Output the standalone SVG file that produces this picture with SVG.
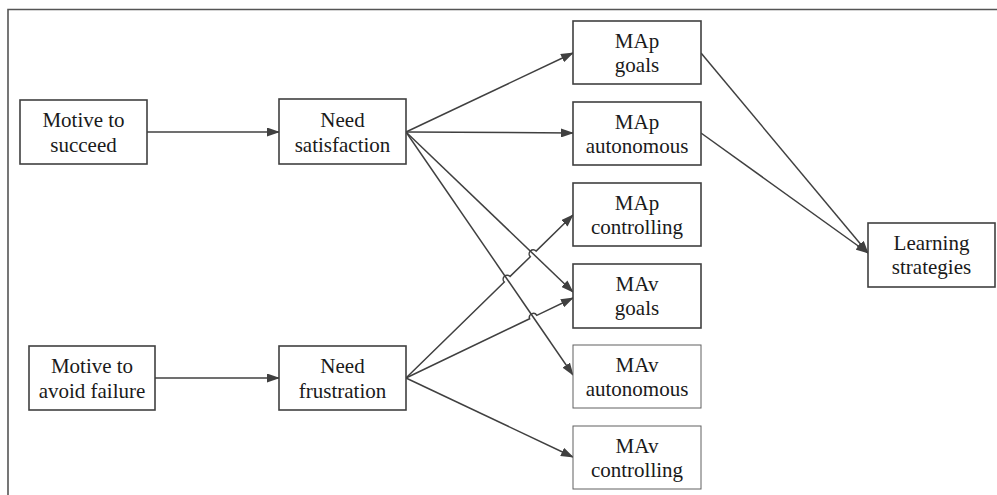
<svg xmlns="http://www.w3.org/2000/svg" width="997" height="495" viewBox="0 0 997 495">
<style>
.box{fill:#fff;stroke:#404040;stroke-width:1.6}
.box2{fill:#fff;stroke:#606060;stroke-width:1}
.t{font-size:21px;fill:#1a1a1a;text-anchor:middle}
.c{fill:none;stroke:#404040;stroke-width:1.5}
</style>
<defs>
<marker id="arr" markerWidth="13" markerHeight="9" refX="12" refY="4.5" orient="auto" markerUnits="userSpaceOnUse">
<path d="M0,0 L13,4.5 L0,9 z" fill="#404040"/>
</marker>
</defs>
<rect width="997" height="495" fill="#fff"/>
<path d="M8,495 L8,9.5 L997,9.5" fill="none" stroke="#555" stroke-width="1.6"/>
<g id="connectors">
<path class="c" d="M147,132 L279,132" marker-end="url(#arr)"/>
<path class="c" d="M155,378 L279,378" marker-end="url(#arr)"/>
<path class="c" d="M406,132 L573,53" marker-end="url(#arr)"/>
<path class="c" d="M406,132 L573,133" marker-end="url(#arr)"/>
<path class="c" d="M406,132 L573,292" marker-end="url(#arr)"/>
<path class="c" d="M406,132 L573,375" marker-end="url(#arr)"/>
<path class="c" d="M406,378 L504.3,282 A4,4 0 0 1 510.1,276.4 L530.3,256.7 A4,4 0 0 1 536.1,251.1 L573,215" marker-end="url(#arr)"/>
<path class="c" d="M406,378 L529.6,318.8 A4,4 0 0 1 536.8,315.4 L573,298" marker-end="url(#arr)"/>
<path class="c" d="M406,378 L573,457" marker-end="url(#arr)"/>
<path class="c" d="M701,53 L868,253" marker-end="url(#arr)"/>
<path class="c" d="M701,133 L868,253" marker-end="url(#arr)"/>
</g>
<g font-family="'Liberation Serif', 'DejaVu Serif', 'Times New Roman', serif">
<g id="motive_succeed"><rect class="box" x="20" y="100" width="127" height="64"/><text class="t" x="83.5" y="127">Motive to</text><text class="t" x="83.5" y="152">succeed</text></g>
<g id="motive_avoid"><rect class="box" x="29" y="346" width="126" height="64"/><text class="t" x="92" y="373">Motive to</text><text class="t" x="92" y="398">avoid failure</text></g>
<g id="need_satisfaction"><rect class="box" x="279" y="99" width="127" height="65"/><text class="t" x="342.5" y="126.5">Need</text><text class="t" x="342.5" y="151.5">satisfaction</text></g>
<g id="need_frustration"><rect class="box" x="279" y="346" width="127" height="64"/><text class="t" x="342.5" y="373">Need</text><text class="t" x="342.5" y="398">frustration</text></g>
<g id="map_goals"><rect class="box" x="573" y="21" width="128" height="63"/><text class="t" x="637" y="48">MAp</text><text class="t" x="637" y="72">goals</text></g>
<g id="map_autonomous"><rect class="box" x="573" y="102" width="128" height="63"/><text class="t" x="637" y="129">MAp</text><text class="t" x="637" y="153">autonomous</text></g>
<g id="map_controlling"><rect class="box" x="573" y="183" width="128" height="63"/><text class="t" x="637" y="210">MAp</text><text class="t" x="637" y="234">controlling</text></g>
<g id="mav_goals"><rect class="box" x="573" y="264" width="128" height="64"/><text class="t" x="637" y="291">MAv</text><text class="t" x="637" y="315">goals</text></g>
<g id="mav_autonomous"><rect class="box2" x="573" y="345" width="128" height="63"/><text class="t" x="637" y="372">MAv</text><text class="t" x="637" y="396">autonomous</text></g>
<g id="mav_controlling"><rect class="box2" x="573" y="426" width="128" height="63"/><text class="t" x="637" y="453">MAv</text><text class="t" x="637" y="477">controlling</text></g>
<g id="learning_strategies"><rect class="box" x="868" y="223" width="127" height="64"/><text class="t" x="931.5" y="250">Learning</text><text class="t" x="931.5" y="274">strategies</text></g>
</g>
</svg>
